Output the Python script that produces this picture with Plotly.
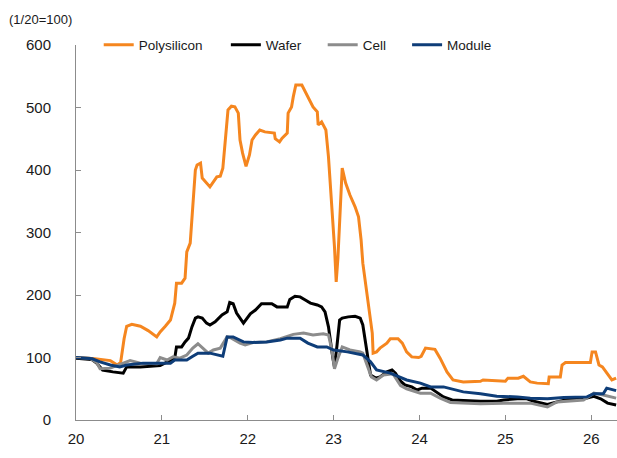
import plotly.graph_objects as go

# Polysilicon
poly_x = [20.00, 20.22, 20.40, 20.48, 20.52, 20.56, 20.59, 20.65, 20.75, 20.84, 20.94, 20.98,
          21.04, 21.10, 21.15, 21.17, 21.23, 21.27, 21.29, 21.33, 21.39, 21.41, 21.45, 21.47,
          21.49, 21.56, 21.64, 21.68, 21.71, 21.75, 21.77, 21.81, 21.85, 21.89, 21.91, 21.94,
          21.98, 22.02, 22.05, 22.09, 22.14, 22.20, 22.31, 22.32, 22.37, 22.40, 22.46, 22.47,
          22.51, 22.53, 22.56, 22.63, 22.69, 22.73, 22.76, 22.81, 22.82, 22.86, 22.91, 22.94,
          22.98, 23.01, 23.03, 23.05, 23.10, 23.14, 23.19, 23.25, 23.29, 23.32, 23.34, 23.39,
          23.45, 23.46, 23.50, 23.54, 23.62, 23.66, 23.75, 23.80, 23.85, 23.91, 23.99, 24.02,
          24.07, 24.18, 24.24, 24.32, 24.39, 24.51, 24.71, 24.74, 24.90, 25.00, 25.03, 25.15,
          25.21, 25.29, 25.37, 25.50, 25.51, 25.64, 25.66, 25.70, 25.99, 26.01, 26.05, 26.09,
          26.13, 26.18, 26.24, 26.29]
poly_y = [100, 98, 95, 88, 92, 130, 150, 153, 150, 143, 133, 141,
          150, 160, 187, 219, 219, 227, 269, 283, 400, 408, 411, 387,
          384, 373, 389, 390, 403, 459, 496, 502, 501, 491, 448, 427,
          406, 424, 448, 456, 464, 461, 459, 450, 445, 451, 459, 491,
          501, 517, 536, 536, 520, 507, 501, 493, 472, 477, 464, 421,
          347, 277, 221, 259, 403, 379, 360, 341, 325, 288, 251, 197,
          139, 107, 109, 115, 123, 130, 130, 123, 109, 101, 100, 102,
          115, 113, 99, 77, 64, 61, 62, 64, 63, 62, 67, 67,
          70, 61, 59, 58, 69, 69, 88, 92, 92, 109, 109, 88,
          85, 75, 64, 67]

# Wafer
wafer_x = [20.00, 20.18, 20.24, 20.31, 20.43, 20.55, 20.59, 20.75, 20.98, 21.12, 21.15, 21.17,
           21.23, 21.27, 21.31, 21.35, 21.39, 21.42, 21.47, 21.52, 21.56, 21.62, 21.70, 21.76,
           21.79, 21.83, 21.87, 21.95, 22.03, 22.09, 22.16, 22.28, 22.34, 22.46, 22.49, 22.55,
           22.61, 22.67, 22.73, 22.81, 22.86, 22.90, 22.94, 22.99, 23.01, 23.04, 23.07, 23.10,
           23.17, 23.25, 23.31, 23.34, 23.37, 23.43, 23.49, 23.54, 23.62, 23.68, 23.72, 23.78,
           23.83, 23.91, 23.97, 24.03, 24.13, 24.20, 24.28, 24.38, 24.51, 24.71, 24.90, 24.98,
           25.14, 25.25, 25.33, 25.49, 25.60, 25.76, 25.95, 26.03, 26.11, 26.19, 26.29]
wafer_y = [99, 97, 91, 80, 77, 75, 85, 85, 87, 96, 99, 117,
           117, 125, 131, 149, 163, 165, 163, 155, 152, 157, 168, 173,
           188, 186, 171, 155, 170, 176, 186, 186, 181, 181, 193, 198,
           197, 192, 187, 184, 181, 173, 149, 100, 85, 120, 160, 163,
           165, 166, 163, 152, 123, 72, 67, 69, 77, 80, 75, 62,
           56, 53, 48, 51, 51, 45, 37, 32, 31, 30, 30, 32,
           34, 34, 30, 25, 29, 34, 35, 38, 34, 27, 24]

# Cell
cell_x = [20.00, 20.16, 20.24, 20.28, 20.40, 20.55, 20.63, 20.75, 20.94, 20.98, 21.06, 21.13,
          21.21, 21.29, 21.36, 21.42, 21.48, 21.54, 21.60, 21.68, 21.76, 21.81, 21.91, 21.97,
          22.06, 22.22, 22.38, 22.53, 22.65, 22.76, 22.88, 22.94, 22.98, 23.01, 23.05, 23.10,
          23.19, 23.31, 23.34, 23.40, 23.44, 23.50, 23.58, 23.69, 23.78, 23.85, 24.01, 24.13,
          24.24, 24.36, 24.71, 24.98, 25.29, 25.49, 25.60, 25.91, 26.03, 26.14, 26.29]
cell_y = [100, 99, 92, 82, 83, 91, 95, 91, 90, 100, 96, 101,
          99, 104, 115, 122, 115, 107, 112, 115, 133, 131, 123, 120,
          124, 125, 130, 137, 139, 136, 138, 136, 112, 82, 99, 117,
          112, 109, 107, 85, 69, 64, 72, 74, 55, 50, 43, 43,
          35, 28, 26, 27, 27, 21, 29, 32, 43, 40, 35]

# Module
module_x = [20.00, 20.19, 20.28, 20.40, 20.51, 20.59, 20.78, 21.10, 21.15, 21.29, 21.36, 21.42,
            21.56, 21.71, 21.76, 21.83, 21.95, 22.06, 22.22, 22.38, 22.46, 22.61, 22.70, 22.81,
            22.92, 23.00, 23.16, 23.34, 23.43, 23.50, 23.66, 23.85, 24.01, 24.13, 24.28, 24.51,
            24.71, 24.90, 25.14, 25.29, 25.49, 25.68, 25.95, 26.03, 26.14, 26.18, 26.29]
module_y = [100, 98, 93, 88, 85, 88, 91, 91, 96, 96, 102, 107,
            107, 102, 133, 133, 125, 124, 125, 128, 131, 131, 123, 117,
            117, 112, 109, 104, 93, 80, 75, 64, 59, 53, 53, 45,
            42, 38, 37, 35, 34, 36, 37, 42, 42, 51, 47]

tick_vals = [20, 21, 22, 23, 24, 25, 26]
tick_text = ["20", "21", "22", "23", "24", "25", "26"]
y_ticks = [0, 100, 200, 300, 400, 500, 600]

FONT = "Liberation Sans, Arial, sans-serif"

fig = go.Figure()
series = [
    ("Polysilicon", poly_x, poly_y, "#F5861F", "legend", 0.042),
    ("Wafer", wafer_x, wafer_y, "#000000", "legend2", 0.277),
    ("Cell", cell_x, cell_y, "#8C8C8C", "legend3", 0.456),
    ("Module", module_x, module_y, "#0E3D78", "legend4", 0.612),
]
legends = {}
for name, xs, ys, col, leg, lx in series:
    fig.add_trace(go.Scatter(x=xs, y=ys, mode="lines", name=name, legend=leg,
                             line=dict(color=col, width=3)))
    legends[leg] = dict(orientation="h", x=lx, y=1.0, xanchor="left", yanchor="middle",
                        font=dict(size=13.5, family=FONT, color="#1a1a1a"),
                        bgcolor="rgba(0,0,0,0)", itemwidth=30)

fig.update_layout(
    width=617, height=458,
    margin=dict(l=76, r=0, t=45, b=38, autoexpand=False),
    paper_bgcolor="white", plot_bgcolor="white",
    font=dict(family=FONT, size=15, color="#1a1a1a"),
    showlegend=True,
    xaxis=dict(range=[20, 26.3], tickvals=tick_vals, ticktext=tick_text,
               ticks="inside", ticklen=5, tickcolor="#8C8C8C",
               showline=True, linecolor="#8C8C8C", linewidth=1,
               showgrid=False, zeroline=False, ticklabelstandoff=5,
               automargin=False),
    yaxis=dict(range=[0, 600], tickvals=y_ticks,
               ticks="inside", ticklen=5, tickcolor="#8C8C8C",
               showline=True, linecolor="#8C8C8C", linewidth=1,
               showgrid=False, zeroline=False, ticklabelstandoff=21,
               automargin=False),
    annotations=[dict(text="(1/20=100)", xref="paper", yref="paper",
                      x=-0.1275, y=1.0667, xanchor="left", yanchor="middle",
                      showarrow=False, font=dict(size=13))],
)
fig.update_layout(**legends)

fig.write_html(
    "out.html",
    config={"displayModeBar": False},
    post_script="document.body.style.margin='0';document.body.style.overflow='hidden';",
)
